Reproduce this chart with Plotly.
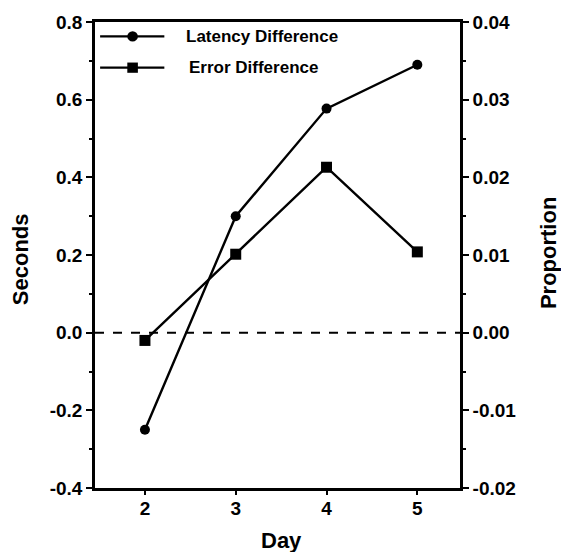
import plotly.graph_objects as go

# Data
days = [2, 3, 4, 5]
latency_diff = [-0.25, 0.30, 0.577, 0.69]        # seconds (left axis)
error_diff = [-0.001, 0.0101, 0.0213, 0.0104]    # proportion (right axis)

left_ticks = [-0.4, -0.2, 0.0, 0.2, 0.4, 0.6, 0.8]
left_labels = ["-0.4", "-0.2", "0.0", "0.2", "0.4", "0.6", "0.8"]
right_ticks = [-0.02, -0.01, 0.0, 0.01, 0.02, 0.03, 0.04]
right_labels = ["-0.02", "-0.01", "0.00", "0.01", "0.02", "0.03", "0.04"]

FONT = "Liberation Sans, Arial, sans-serif"
tick_font = dict(family=FONT, size=19, color="black", weight="bold")
title_font = dict(family=FONT, size=22, color="black", weight="bold")

fig = go.Figure()
fig.add_trace(go.Scatter(
    x=days, y=latency_diff, mode="lines+markers", name="Latency Difference",
    line=dict(color="black", width=2.4),
    marker=dict(symbol="circle", size=10, color="black"),
    yaxis="y", showlegend=False,
))
fig.add_trace(go.Scatter(
    x=days, y=error_diff, mode="lines+markers", name="Error Difference",
    line=dict(color="black", width=2.4),
    marker=dict(symbol="square", size=11, color="black"),
    yaxis="y2", showlegend=False,
))

# zero reference line
fig.add_shape(type="line", xref="paper", yref="y", x0=0, x1=1, y0=0, y1=0,
              line=dict(color="black", width=2, dash="dash"))

# legend drawn in paper space
legend_items = [("Latency Difference", "circle", 0.969, 0.245),
                ("Error Difference", "square", 0.902, 0.253)]
for label, sym, yp, tx in legend_items:
    fig.add_shape(type="line", xref="paper", yref="paper",
                  x0=0.014, x1=0.19, y0=yp, y1=yp,
                  line=dict(color="black", width=2.2))
    cx, cy = 0.103, yp
    hw, hh = 0.0145, 0.011
    shape_type = "circle" if sym == "circle" else "rect"
    fig.add_shape(type=shape_type, xref="paper", yref="paper",
                  x0=cx - hw, x1=cx + hw, y0=cy - hh, y1=cy + hh,
                  fillcolor="black", line=dict(color="black", width=0))
    fig.add_annotation(x=tx, y=yp, xref="paper", yref="paper", text=label,
                       showarrow=False, xanchor="left", yanchor="middle",
                       font=dict(family=FONT, size=17, color="black", weight="bold"))

# axis titles
fig.add_annotation(x=-0.2055, y=0.491, xref="paper", yref="paper", text="Seconds",
                   textangle=-90, showarrow=False, xanchor="center", yanchor="middle",
                   font=title_font)
fig.add_annotation(x=1.241, y=0.504, xref="paper", yref="paper", text="Proportion",
                   textangle=-90, showarrow=False, xanchor="center", yanchor="middle",
                   font=title_font)
fig.add_annotation(x=0.5096, y=-0.113, xref="paper", yref="paper", text="Day",
                   showarrow=False, xanchor="center", yanchor="middle",
                   font=dict(family=FONT, size=22, color="black", weight="bold"))

fig.update_layout(
    width=561, height=552,
    margin=dict(l=95, r=101, t=20, b=64),
    paper_bgcolor="white", plot_bgcolor="white",
    xaxis=dict(
        range=[1.45, 5.47], tickvals=days, ticktext=[str(d) for d in days],
        showgrid=False, zeroline=False,
        showline=True, linecolor="black", linewidth=2.6, mirror=True,
        ticks="outside", ticklen=4, tickwidth=2, tickcolor="black",
        tickfont=tick_font, ticklabelstandoff=-3,
    ),
    yaxis=dict(
        range=[-0.4, 0.8], tickvals=left_ticks, ticktext=left_labels,
        showgrid=False, zeroline=False,
        showline=True, linecolor="black", linewidth=2.6,
        ticks="outside", ticklen=6, tickwidth=2, tickcolor="black",
        tickfont=tick_font,
        minor=dict(dtick=0.1, tick0=0, ticks="outside", ticklen=3, tickwidth=1.5, tickcolor="black"),
    ),
    yaxis2=dict(
        range=[-0.02, 0.04], tickvals=right_ticks, ticktext=right_labels,
        overlaying="y", side="right",
        showgrid=False, zeroline=False,
        showline=True, linecolor="black", linewidth=2.6,
        ticks="outside", ticklen=6, tickwidth=2, tickcolor="black",
        tickfont=tick_font,
        minor=dict(dtick=0.005, tick0=0, ticks="outside", ticklen=3, tickwidth=1.5, tickcolor="black"),
    ),
)

fig.write_html("out.html")
